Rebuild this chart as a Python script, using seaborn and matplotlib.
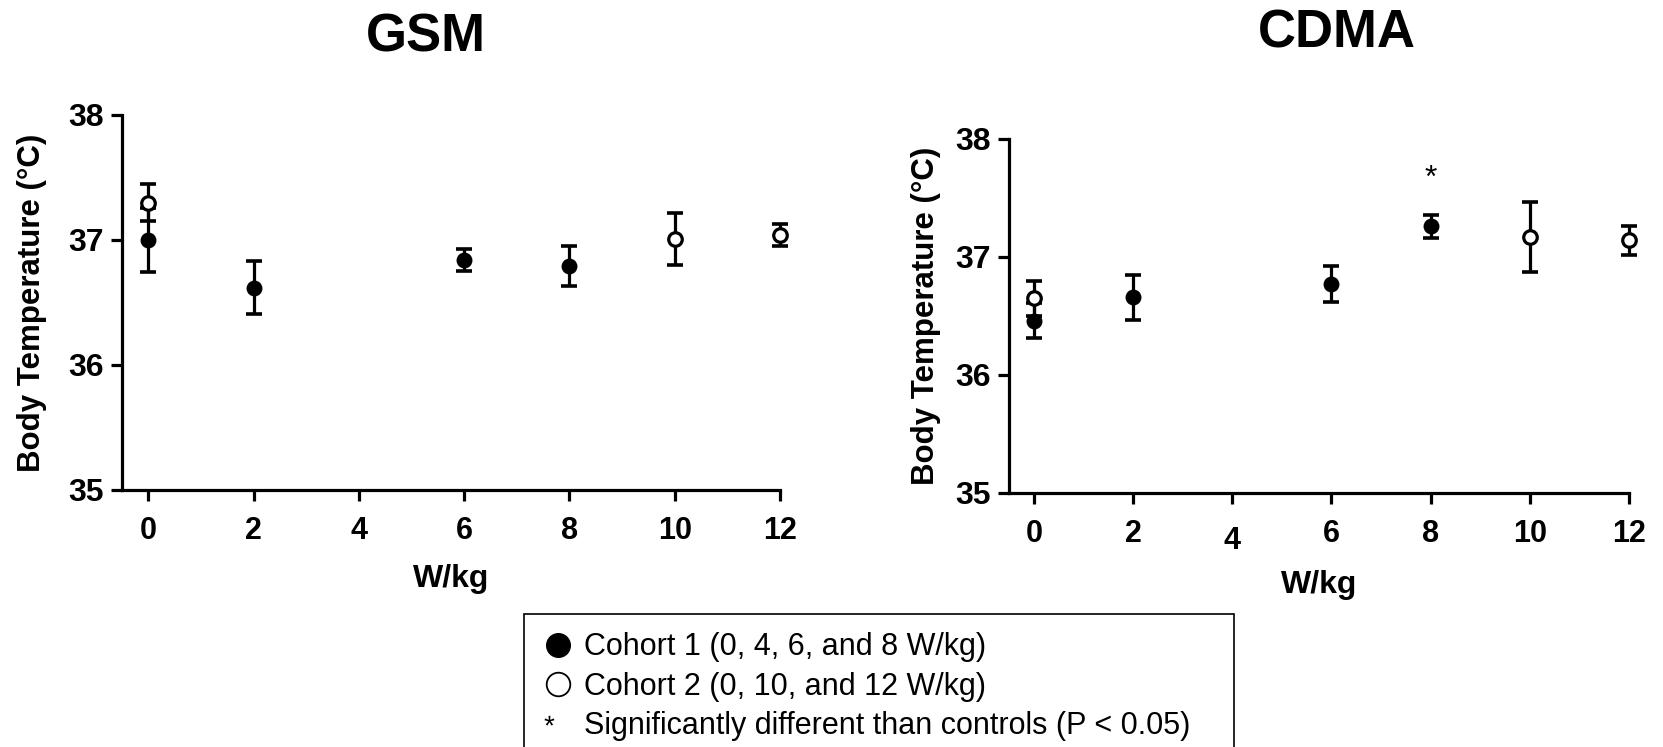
import numpy as np
import pandas as pd
import matplotlib
matplotlib.use('Agg')
import matplotlib.pyplot as plt
import seaborn as sns
from matplotlib.lines import Line2D
from matplotlib.textpath import TextPath
from matplotlib.path import Path
from matplotlib.font_manager import FontProperties
from matplotlib.transforms import ScaledTranslation

# ---------------- data ----------------
x_ticks = [0, 2, 4, 6, 8, 10, 12]
y_ticks = [35, 36, 37, 38]

gsm_c1_x = [0, 2, 6, 8]
gsm_c1_mean = [37.00, 36.62, 36.84, 36.79]
gsm_c1_sem = [0.26, 0.21, 0.09, 0.16]
gsm_c2_x = [0, 10, 12]
gsm_c2_mean = [37.30, 37.01, 37.04]
gsm_c2_sem = [0.15, 0.21, 0.09]

cdma_c1_x = [0, 2, 6, 8]
cdma_c1_mean = [36.46, 36.66, 36.77, 37.26]
cdma_c1_sem = [0.15, 0.19, 0.155, 0.10]
cdma_c2_x = [0, 10, 12]
cdma_c2_mean = [36.65, 37.17, 37.14]
cdma_c2_sem = [0.15, 0.30, 0.12]

cdma_sig_x = [8]
cdma_sig_y = [37.66]

titles = ["GSM", "CDMA"]
legend_labels = ["Cohort 1 (0, 4, 6, and 8 W/kg)",
                 "Cohort 2 (0, 10, and 12 W/kg)",
                 "Significantly different than controls (P < 0.05)"]

# ---------------- style ----------------
sns.set_style("ticks")
plt.rcParams['font.family'] = ['Liberation Sans', 'DejaVu Sans']
for k in ['text.color', 'axes.labelcolor', 'xtick.color', 'ytick.color', 'axes.edgecolor']:
    plt.rcParams[k] = 'black'

fig = plt.figure(figsize=(16.63, 7.47), dpi=100)
ax1 = fig.add_axes([122/1663, 1-490/747, (780-122)/1663, (490-115)/747])
ax2 = fig.add_axes([1009/1663, 1-493/747, (1629-1009)/1663, (493-139)/747])

LW = 2.3


def panel(ax, c1x, c1m, c1e, c2x, c2m, c2e, ylabelpad, xlabelpad):
    for xs, ms, es in [(c1x, c1m, c1e), (c2x, c2m, c2e)]:
        cont = ax.errorbar(xs, ms, yerr=es, fmt='none', ecolor='black',
                           elinewidth=LW, capsize=5.5, capthick=LW + 0.3, zorder=2)
        for part in cont.lines:
            if part is None:
                continue
            if isinstance(part, tuple):
                for a in part:
                    a.set_clip_on(False)
            else:
                part.set_clip_on(False)
    d1 = pd.DataFrame({"x": c1x, "y": c1m})
    d2 = pd.DataFrame({"x": c2x, "y": c2m})
    sns.scatterplot(data=d1, x="x", y="y", ax=ax, color='black', edgecolor='black',
                    s=105, linewidth=1.2, zorder=3, clip_on=False, legend=False)
    sns.scatterplot(data=d2, x="x", y="y", ax=ax, color='white', edgecolor='black',
                    s=95, linewidth=2.3, zorder=4, clip_on=False, legend=False)
    ax.set_xlim(-0.5, 12)
    ax.set_ylim(35, 38)
    ax.set_xticks(x_ticks)
    ax.set_yticks(y_ticks)
    ax.set_xticklabels([str(v) for v in x_ticks], fontsize=22, fontweight='bold')
    ax.set_yticklabels([str(v) for v in y_ticks], fontsize=23, fontweight='bold')
    ax.tick_params(axis='both', direction='out', length=8, width=LW, color='black')
    ax.tick_params(axis='x', pad=11)
    ax.tick_params(axis='y', pad=5)
    for s in ['left', 'bottom']:
        ax.spines[s].set_linewidth(LW)
        ax.spines[s].set_color('black')
    sns.despine(ax=ax)
    ax.set_xlabel("W/kg", fontsize=23, fontweight='bold', labelpad=xlabelpad)
    ax.set_ylabel("Body Temperature (°C)", fontsize=22.5, fontweight='bold', labelpad=ylabelpad)
    ax.grid(False)


panel(ax1, gsm_c1_x, gsm_c1_mean, gsm_c1_sem, gsm_c2_x, gsm_c2_mean, gsm_c2_sem, 15, 13)
panel(ax2, cdma_c1_x, cdma_c1_mean, cdma_c1_sem, cdma_c2_x, cdma_c2_mean, cdma_c2_sem, 10, 10)

# significance asterisk
for sx, sy in zip(cdma_sig_x, cdma_sig_y):
    ax2.text(sx, sy, "*", ha='center', va='center', fontsize=23)

# the "4" label of the CDMA panel sits slightly lower in the original
lab4 = ax2.get_xticklabels()[2]
lab4.set_transform(lab4.get_transform() + ScaledTranslation(0, -7/100, fig.dpi_scale_trans))

# titles
fig.text(426/1663, 1-38/747, titles[0], ha='center', va='center', fontsize=38, fontweight='bold')
fig.text(1337/1663, 1-33/747, titles[1], ha='center', va='center', fontsize=38, fontweight='bold')

# legend: asterisk handle built from the font glyph (path in points),
# shifted left and a bit up from the handle centre as in the original
tp = TextPath((0, 0), "*", size=1, prop=FontProperties(family='Liberation Sans'))
codes = tp.codes
v = tp.vertices.copy()
real = codes != Path.CLOSEPOLY
xmin, xmax = v[real, 0].min(), v[real, 0].max()
ymin, ymax = v[real, 1].min(), v[real, 1].max()
star_h_pt = 7.0
star_dx_pt = -6.5
star_dy_pt = 2.0
scale = star_h_pt / (ymax - ymin)
nv = np.empty_like(v)
nv[:, 0] = (v[:, 0] - (xmin + xmax) / 2) * scale + star_dx_pt
nv[:, 1] = (v[:, 1] - (ymin + ymax) / 2) * scale + star_dy_pt
nv[~real] = 0.0
star_path = Path(nv, codes)
star_ms = 2 * np.abs(nv[real]).max()

handles = [
    Line2D([], [], linestyle='none', marker='o', markersize=17,
           markerfacecolor='black', markeredgecolor='black'),
    Line2D([], [], linestyle='none', marker='o', markersize=17,
           markerfacecolor='white', markeredgecolor='black', markeredgewidth=1.3),
    Line2D([], [], linestyle='none', marker=star_path, markersize=star_ms,
           markerfacecolor='black', markeredgecolor='black', markeredgewidth=0),
]
leg = fig.legend(handles, legend_labels, loc='upper left',
                 bbox_to_anchor=(524/1663, 1-614/747 - 0.3, 710/1663, 0.3), mode='expand',
                 frameon=True, fancybox=False,
                 fontsize=22, handlelength=1.05, handletextpad=0.33, labelspacing=0.3,
                 borderpad=0.6, borderaxespad=0, framealpha=1)
leg.get_frame().set_edgecolor('black')
leg.get_frame().set_linewidth(1.2)

fig.savefig("out.png", dpi=100, facecolor='white')
